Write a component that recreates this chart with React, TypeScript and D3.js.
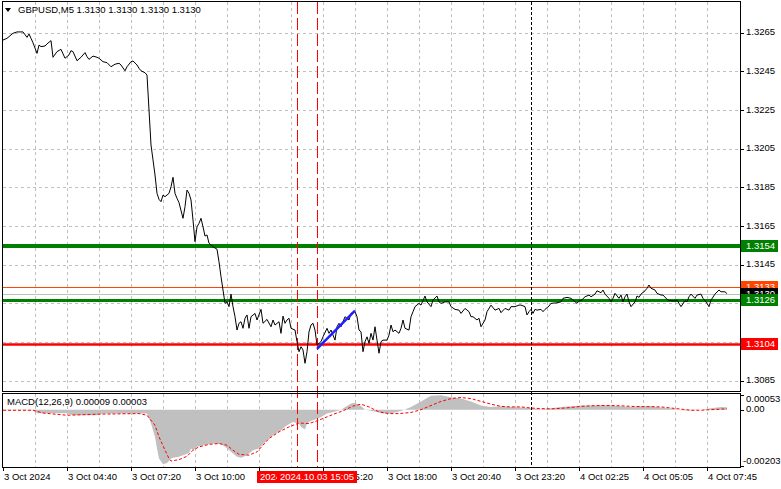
import React from "react";
import * as d3 from "d3";

// ---------- DATA ----------
const symbolTitle = "GBPUSD,M5  1.3130 1.3130 1.3130 1.3130";
const macdTitle = "MACD(12,26,9) 0.00009 0.00003";

// bar index (M5 bars) and close price
const priceBars = [
  0, 2, 5, 7, 10, 12, 13, 14, 15, 17,
  18, 19, 21, 22, 24, 25, 27, 29, 31, 33,
  34, 35, 37, 39, 41, 42, 43, 45, 47, 48,
  50, 52, 54, 56, 58, 59, 61, 62, 64, 65,
  67, 68, 69, 71, 72, 73, 74, 75, 76, 77,
  78, 79, 80, 81, 83, 84, 85, 86, 87, 88,
  90, 91, 92, 93, 94, 95, 96, 97, 98, 99,
  100, 101, 102, 103, 105, 107, 108, 109, 110, 111,
  112, 113, 114, 115, 116, 117, 118, 119, 120, 121,
  122, 123, 124, 126, 127, 129, 130, 132, 134, 135,
  136, 138, 139, 140, 141, 142, 143, 144, 146, 147,
  148, 149, 150, 151, 152, 153, 154, 155, 156, 157,
  159, 160, 162, 163, 164, 166, 167, 168, 169, 171,
  173, 174, 176, 177, 178, 179, 180, 181, 182, 183,
  184, 185, 186, 187, 188, 189, 190, 192, 193, 194,
  195, 196, 198, 199, 200, 201, 203, 204, 205, 206,
  208, 209, 211, 212, 214, 215, 217, 218, 219, 221,
  223, 224, 226, 228, 229, 231, 233, 234, 235, 237,
  238, 239, 241, 242, 244, 246, 248, 249, 251, 253,
  254, 256, 258, 259, 261, 262, 263, 264, 265, 266,
  267, 269, 270, 271, 273, 274, 277, 279, 280, 282,
  284, 285, 287, 288, 289, 291, 293, 294, 296, 297,
  299, 300, 301, 303, 304, 305, 306, 308, 309, 310,
  311, 312, 313, 314, 316, 317, 318, 319, 321, 322,
  323, 324, 326, 327, 329, 330, 332, 333, 334, 336,
  337, 338, 339, 341, 342, 343, 344, 346, 347, 349,
  350, 351, 352, 353, 354, 356, 358, 359, 361, 362,
];
const priceCloses = [
  1.32612, 1.32621, 1.32647, 1.32654, 1.32654, 1.32626, 1.32643, 1.32621, 1.32598, 1.32543,
  1.32586, 1.32578, 1.32581, 1.32592, 1.32609, 1.32523, 1.32552, 1.32564, 1.32518, 1.32535,
  1.32557, 1.32552, 1.32505, 1.32523, 1.32547, 1.32526, 1.32512, 1.32529, 1.32523, 1.32518,
  1.325, 1.32495, 1.32474, 1.32487, 1.32492, 1.32483, 1.32453, 1.32474, 1.325, 1.32504,
  1.32483, 1.32466, 1.32453, 1.32443, 1.32431, 1.3225, 1.32069, 1.31992, 1.31914, 1.31819,
  1.31788, 1.31776, 1.3181, 1.31802, 1.31819, 1.31853, 1.31902, 1.31819, 1.31793, 1.31771,
  1.3169, 1.3175, 1.31836, 1.31819, 1.31785, 1.31681, 1.31569, 1.31646, 1.31664, 1.3169,
  1.31646, 1.31598, 1.31604, 1.31561, 1.31543, 1.3153, 1.31465, 1.31388, 1.31319, 1.3125,
  1.31258, 1.31233, 1.31298, 1.31233, 1.31181, 1.31112, 1.31147, 1.31155, 1.31121, 1.31173,
  1.3119, 1.31121, 1.31181, 1.31198, 1.31164, 1.31219, 1.31147, 1.31167, 1.31129, 1.31164,
  1.31138, 1.31155, 1.31095, 1.31184, 1.31147, 1.31164, 1.31173, 1.31121, 1.31112, 1.31052,
  1.31, 1.31026, 1.31009, 1.3094, 1.31, 1.31103, 1.31138, 1.31147, 1.31112, 1.31035,
  1.31052, 1.31077, 1.31121, 1.31095, 1.31112, 1.3106, 1.31129, 1.31147, 1.31129, 1.31181,
  1.31164, 1.31198, 1.31207, 1.31181, 1.31112, 1.31103, 1.31, 1.31052, 1.31077, 1.31043,
  1.31095, 1.3106, 1.31129, 1.3106, 1.30992, 1.31052, 1.3106, 1.3106, 1.31086, 1.31138,
  1.31103, 1.31112, 1.31095, 1.31121, 1.31164, 1.31121, 1.31112, 1.31181, 1.31207, 1.31233,
  1.3125, 1.31241, 1.31288, 1.31258, 1.31233, 1.31267, 1.31288, 1.31258, 1.3125, 1.31258,
  1.31258, 1.31233, 1.31219, 1.31215, 1.31198, 1.31224, 1.31207, 1.31181, 1.31181, 1.31164,
  1.31173, 1.31129, 1.31164, 1.31207, 1.31241, 1.31215, 1.31224, 1.31202, 1.31224, 1.31215,
  1.31233, 1.31233, 1.31241, 1.31241, 1.31233, 1.3119, 1.31207, 1.31219, 1.31198, 1.31219,
  1.31215, 1.31219, 1.31207, 1.31219, 1.31236, 1.3125, 1.31253, 1.31258, 1.31276, 1.31281,
  1.31276, 1.31267, 1.3125, 1.31264, 1.31264, 1.31284, 1.31293, 1.31284, 1.31298, 1.31315,
  1.31305, 1.31319, 1.31298, 1.31276, 1.31258, 1.31276, 1.31302, 1.31276, 1.31293, 1.31258,
  1.31284, 1.31298, 1.31258, 1.31233, 1.31258, 1.31288, 1.31281, 1.31298, 1.31315, 1.31328,
  1.31345, 1.31328, 1.31319, 1.31302, 1.31293, 1.31293, 1.31271, 1.31264, 1.31264, 1.31262,
  1.31267, 1.3125, 1.31233, 1.31264, 1.31258, 1.31284, 1.31298, 1.31276, 1.31293, 1.31298,
  1.31276, 1.31264, 1.3125, 1.31233, 1.31267, 1.31298, 1.31319, 1.3131, 1.3131, 1.313,
];

// MACD main (histogram)
const macdBars = [
  0, 15, 17, 32, 35, 47, 50, 72, 74, 76,
  77, 78, 80, 82, 84, 85, 88, 90, 93, 94,
  95, 97, 100, 105, 109, 111, 114, 117, 119, 122,
  125, 128, 130, 132, 135, 139, 142, 145, 148, 149,
  151, 152, 154, 156, 159, 162, 165, 169, 172, 174,
  176, 179, 181, 184, 187, 190, 194, 197, 199, 204,
  209, 214, 219, 224, 229, 234, 239, 244, 249, 254,
  259, 264, 269, 274, 279, 284, 289, 294, 299, 304,
  309, 314, 319, 324, 329, 334, 339, 344, 349, 354,
  359, 362,
];
const macdMain = [
  -0.00002, -0.00002, -0.00013, -0.00013, -0.0002, -0.0002, -0.00014, -0.00014, -0.0005, -0.00098,
  -0.0014, -0.00176, -0.00197, -0.00192, -0.00176, -0.00173, -0.0017, -0.00164, -0.00156, -0.0014,
  -0.00146, -0.00134, -0.00128, -0.00122, -0.00125, -0.00134, -0.00152, -0.0017, -0.00173, -0.00164,
  -0.00146, -0.0014, -0.00125, -0.0011, -0.00092, -0.00074, -0.00056, -0.00044, -0.0005, -0.00062,
  -0.00071, -0.0005, -0.0004, -0.00035, -0.00026, -0.00014, -0.00008, 0, 0.00013, 0.00022,
  0.00025, 0.00013, 0, -0.00004, -0.00008, -0.00014, -0.00014, -0.00008, -0.00005, 0.0001,
  0.0003, 0.0005, 0.00052, 0.00045, 0.0004, 0.0003, 0.00015, 0.0001, 0.00012, 0.0001,
  0.00008, 0.00005, 0.00002, 0.00005, 0.0001, 0.00012, 0.00015, 0.00015, 0.00016, 0.00015,
  0.00012, 0.0001, 0.00012, 0.00012, 0.00008, 0.00004, -0.00002, -0.00003, 0, 0.00005,
  0.0001, 0.00009,
];

// MACD signal
const signalBars = [
  0, 15, 20, 32, 48, 68, 72, 76, 78, 81,
  83, 84, 88, 92, 95, 98, 103, 108, 112, 115,
  118, 123, 127, 130, 133, 138, 143, 148, 153, 157,
  162, 165, 170, 175, 179, 183, 188, 193, 198, 204,
  209, 214, 219, 224, 229, 234, 239, 244, 249, 254,
  259, 264, 269, 274, 279, 284, 289, 294, 299, 304,
  309, 314, 319, 324, 329, 334, 339, 344, 349, 354,
  359, 362,
];
const signalVals = [
  -0.00002, -0.00002, -0.00012, -0.0002, -0.00016, -0.00014, -0.0002, -0.00056, -0.00098, -0.00146,
  -0.00176, -0.00185, -0.0018, -0.00168, -0.00146, -0.00134, -0.00125, -0.00122, -0.00128, -0.00146,
  -0.00161, -0.00164, -0.00152, -0.00128, -0.00104, -0.0008, -0.00062, -0.00048, -0.0005, -0.0004,
  -0.00026, -0.00017, -0.00004, 0.00013, 0.0002, 0.0001, -0.00008, -0.00014, -0.00014, -0.0001,
  0, 0.00015, 0.0003, 0.0004, 0.00044, 0.0004, 0.0003, 0.0002, 0.00012, 0.0001,
  0.0001, 0.00006, 0.00004, 0.00003, 0.00005, 0.00008, 0.00012, 0.00014, 0.00015, 0.00015,
  0.00014, 0.00012, 0.00011, 0.00011, 0.0001, 0.00006, 0.00002, -0.00002, -0.00002, 0,
  0.00002, 0.00003,
];

const priceTicks = [1.3265, 1.3245, 1.3225, 1.3205, 1.3185, 1.3165, 1.3145, 1.3125, 1.3105, 1.3085];
const macdTickVals = [0.00053, 0, -0.00203];
const macdTickLabels = ["0.00053", "0.00", "-0.00203"];

const timeLabelBars = [0, 32, 64, 96, 128, 160, 192, 224, 256, 288, 320, 352];
const timeLabels = [
  "3 Oct 2024", "3 Oct 04:40", "3 Oct 07:20", "3 Oct 10:00", "3 Oct 12:40", "3 Oct 15:20",
  "3 Oct 18:00", "3 Oct 20:40", "3 Oct 23:20", "4 Oct 02:25", "4 Oct 05:05", "4 Oct 07:45",
];

// horizontal level lines
const levelPrices = [1.31547, 1.31335, 1.313, 1.31267, 1.3104];
const levelLabels = ["1.3154", "1.3133", "1.3130", "1.3126", "1.3104"];

// vertical markers
const markerBars = [147, 157];
const markerLabels = ["2024.10.03 14:15", "2024.10.03 15:05"];
const daySeparatorBar = 264;

// trend line
const trendBars = [157, 176];
const trendPrices = [1.31015, 1.31213];

// ---------- STYLES / LAYOUT ----------
const W = 781;
const H = 489;
const L = 3;
const R = 740;
const T = 2;
const MAIN_B = 391;
const MACD_T = 394;
const MACD_B = 467;
const FONT = "'Liberation Sans', Arial, sans-serif";
const FS = 9.5;
const GRID = "#c0c0c0";
const levelStyles = [
  { color: "#008000", width: 4, box: "#008000" },
  { color: "#ff4500", width: 1, box: "#ff4500" },
  { color: "#c0c0c0", width: 1, box: "#000000" },
  { color: "#008000", width: 3, box: "#008000" },
  { color: "#ff0000", width: 2.5, box: "#ff0000" },
];

export default function App() {
  const x = d3.scaleLinear().domain([0, 368.5]).range([L, R]);
  const y = d3.scaleLinear().domain([1.3085, 1.3265]).range([380.7, 32.7]);
  const ym = d3.scaleLinear().domain([-0.00203, 0.00053]).range([MACD_B - 1, MACD_T + 1]);

  const pricePts = priceBars.map((b, i) => [b, priceCloses[i]] as [number, number]);
  const line = d3.line<[number, number]>().x((d) => x(d[0])).y((d) => y(d[1]));
  const macdPts = macdBars.map((b, i) => [b, macdMain[i]] as [number, number]);
  const area = d3
    .area<[number, number]>()
    .x((d) => x(d[0]))
    .y0(ym(0))
    .y1((d) => ym(d[1]));
  const sigPts = signalBars.map((b, i) => [b, signalVals[i]] as [number, number]);
  const sigLine = d3.line<[number, number]>().x((d) => x(d[0])).y((d) => ym(d[1]));

  const vGrid = d3.range(16, 368, 16);
  const px = (v: number) => Math.round(v) + 0.5;

  return (
    <svg
      width={W}
      height={H}
      style={{ position: "absolute", left: 0, top: 0, background: "#fff" }}
      fontFamily={FONT}
      fontSize={FS}
    >
      <rect x={0} y={0} width={W} height={H} fill="#fff" />
      <defs>
        <clipPath id="mainClip">
          <rect x={L} y={T} width={R - L} height={MAIN_B - T} />
        </clipPath>
        <clipPath id="macdClip">
          <rect x={L} y={MACD_T} width={R - L} height={MACD_B - MACD_T} />
        </clipPath>
      </defs>

      {/* horizontal grid main */}
      {priceTicks.map((p) => (
        <line key={"hg" + p} x1={L} x2={R} y1={px(y(p))} y2={px(y(p))} stroke={GRID} strokeDasharray="3,3" />
      ))}
      {/* vertical grid */}
      {vGrid.map((b) => (
        <g key={"vg" + b}>
          <line x1={px(x(b))} x2={px(x(b))} y1={T} y2={MAIN_B} stroke={GRID} strokeDasharray="3,3" />
          <line x1={px(x(b))} x2={px(x(b))} y1={MACD_T} y2={MACD_B} stroke={GRID} strokeDasharray="3,3" />
        </g>
      ))}

      {/* MACD */}
      <g clipPath="url(#macdClip)">
        <path d={area(macdPts) || ""} fill="#c0c0c0" />
        <path d={sigLine(sigPts) || ""} fill="none" stroke="#ff0000" strokeWidth={1} strokeDasharray="3,2" />
      </g>

      {/* level lines */}
      <g clipPath="url(#mainClip)">
        {levelPrices.map((p, i) => (
          <line
            key={"lv" + i}
            x1={L}
            x2={R}
            y1={Math.round(y(p)) + (levelStyles[i].width % 2 ? 0.5 : 0)}
            y2={Math.round(y(p)) + (levelStyles[i].width % 2 ? 0.5 : 0)}
            stroke={levelStyles[i].color}
            strokeWidth={levelStyles[i].width}
          />
        ))}
      </g>

      {/* day separator and markers */}
      <line x1={px(x(daySeparatorBar))} x2={px(x(daySeparatorBar))} y1={T} y2={MACD_B} stroke="#000" strokeDasharray="3,2" />
      {markerBars.map((b) => (
        <line key={"mk" + b} x1={px(x(b))} x2={px(x(b))} y1={T} y2={MACD_B} stroke="#ff0000" strokeDasharray="12,4" />
      ))}

      {/* price line */}
      <g clipPath="url(#mainClip)">
        <path d={line(pricePts) || ""} fill="none" stroke="#000" strokeWidth={1} />
        <line
          x1={x(trendBars[0])}
          y1={y(trendPrices[0])}
          x2={x(trendBars[1])}
          y2={y(trendPrices[1])}
          stroke="#1f1fff"
          strokeWidth={2.5}
        />
      </g>

      {/* borders */}
      <rect x={L - 0.5} y={T - 0.5} width={R - L + 1} height={MAIN_B - T + 1} fill="none" stroke="#000" />
      <rect x={L - 0.5} y={MACD_T - 0.5} width={R - L + 1} height={MACD_B - MACD_T + 1} fill="none" stroke="#000" />

      {/* right price axis */}
      {priceTicks.map((p) => (
        <g key={"pt" + p}>
          <line x1={R} x2={R + 4} y1={px(y(p))} y2={px(y(p))} stroke="#000" />
          <text x={R + 6} y={y(p)} dominantBaseline="middle" fill="#000">
            {p.toFixed(4)}
          </text>
        </g>
      ))}
      {macdTickVals.map((v, i) => {
        const cy = Math.max(MACD_T + 5, Math.min(MACD_B - 6, ym(v)));
        return (
          <g key={"mt" + i}>
            <line x1={R} x2={R + 4} y1={px(ym(v))} y2={px(ym(v))} stroke="#000" />
            <text x={v < 0 ? R + 3 : R + 6} y={cy} dominantBaseline="middle" fill="#000">
              {macdTickLabels[i]}
            </text>
          </g>
        );
      })}

      {/* level label boxes */}
      {levelPrices.map((p, i) => (
        <g key={"lb" + i}>
          <rect x={R + 1} y={Math.round(y(p)) - 6} width={37} height={12} fill={levelStyles[i].box} />
          <text x={R + 6} y={Math.round(y(p)) + 0.5} dominantBaseline="middle" fill="#fff">
            {levelLabels[i]}
          </text>
        </g>
      ))}

      {/* bottom time axis */}
      {timeLabelBars.map((b, i) => (
        <g key={"tl" + b}>
          <line x1={px(x(b))} x2={px(x(b))} y1={MACD_B} y2={MACD_B + 4} stroke="#000" />
          <text x={x(b) + 1} y={477} dominantBaseline="middle" fill="#000">
            {timeLabels[i]}
          </text>
        </g>
      ))}
      {markerBars.map((b, i) => (
        <g key={"ml" + b}>
          <rect x={Math.round(x(b)) - 40} y={471} width={80} height={12} fill="#ff0000" />
          <text x={Math.round(x(b))} y={477} textAnchor="middle" dominantBaseline="middle" fill="#fff">
            {markerLabels[i]}
          </text>
        </g>
      ))}

      {/* titles */}
      <path d="M5,8 L11,8 L8,12 Z" fill="#000" />
      <text x={18} y={10} dominantBaseline="middle" fill="#000">
        {symbolTitle}
      </text>
      <text x={7} y={402} dominantBaseline="middle" fill="#000">
        {macdTitle}
      </text>
    </svg>
  );
}
